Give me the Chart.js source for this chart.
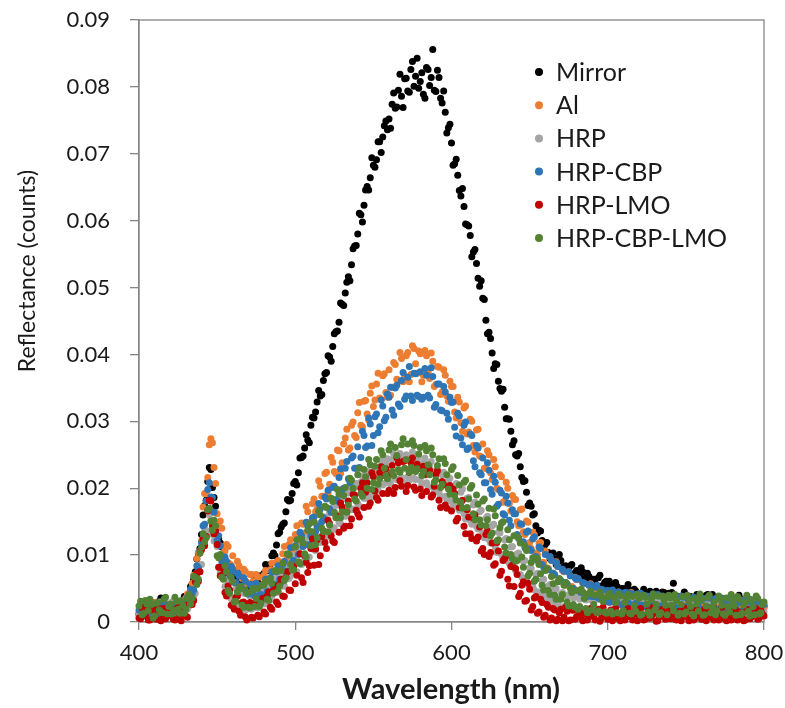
<!DOCTYPE html>
<html>
<head>
<meta charset="utf-8">
<script src="https://cdn.jsdelivr.net/npm/chart.js@4"></script>
<style>
  html, body { margin: 0; padding: 0; background: #fff; }
</style>
</head>
<body>
<canvas id="cvs_reflectancia" width="785" height="708"></canvas>
<script>
// Comprimento de onda (nm), um ponto por nm
const wavelengths = [
  400, 401, 402, 403, 404, 405, 406, 407, 408, 409, 410, 411, 412, 413, 414, 415, 416, 417, 418, 419,
  420, 421, 422, 423, 424, 425, 426, 427, 428, 429, 430, 431, 432, 433, 434, 435, 436, 437, 438, 439,
  440, 441, 442, 443, 444, 445, 446, 447, 448, 449, 450, 451, 452, 453, 454, 455, 456, 457, 458, 459,
  460, 461, 462, 463, 464, 465, 466, 467, 468, 469, 470, 471, 472, 473, 474, 475, 476, 477, 478, 479,
  480, 481, 482, 483, 484, 485, 486, 487, 488, 489, 490, 491, 492, 493, 494, 495, 496, 497, 498, 499,
  500, 501, 502, 503, 504, 505, 506, 507, 508, 509, 510, 511, 512, 513, 514, 515, 516, 517, 518, 519,
  520, 521, 522, 523, 524, 525, 526, 527, 528, 529, 530, 531, 532, 533, 534, 535, 536, 537, 538, 539,
  540, 541, 542, 543, 544, 545, 546, 547, 548, 549, 550, 551, 552, 553, 554, 555, 556, 557, 558, 559,
  560, 561, 562, 563, 564, 565, 566, 567, 568, 569, 570, 571, 572, 573, 574, 575, 576, 577, 578, 579,
  580, 581, 582, 583, 584, 585, 586, 587, 588, 589, 590, 591, 592, 593, 594, 595, 596, 597, 598, 599,
  600, 601, 602, 603, 604, 605, 606, 607, 608, 609, 610, 611, 612, 613, 614, 615, 616, 617, 618, 619,
  620, 621, 622, 623, 624, 625, 626, 627, 628, 629, 630, 631, 632, 633, 634, 635, 636, 637, 638, 639,
  640, 641, 642, 643, 644, 645, 646, 647, 648, 649, 650, 651, 652, 653, 654, 655, 656, 657, 658, 659,
  660, 661, 662, 663, 664, 665, 666, 667, 668, 669, 670, 671, 672, 673, 674, 675, 676, 677, 678, 679,
  680, 681, 682, 683, 684, 685, 686, 687, 688, 689, 690, 691, 692, 693, 694, 695, 696, 697, 698, 699,
  700, 701, 702, 703, 704, 705, 706, 707, 708, 709, 710, 711, 712, 713, 714, 715, 716, 717, 718, 719,
  720, 721, 722, 723, 724, 725, 726, 727, 728, 729, 730, 731, 732, 733, 734, 735, 736, 737, 738, 739,
  740, 741, 742, 743, 744, 745, 746, 747, 748, 749, 750, 751, 752, 753, 754, 755, 756, 757, 758, 759,
  760, 761, 762, 763, 764, 765, 766, 767, 768, 769, 770, 771, 772, 773, 774, 775, 776, 777, 778, 779,
  780, 781, 782, 783, 784, 785, 786, 787, 788, 789, 790, 791, 792, 793, 794, 795, 796, 797, 798, 799,
  800
];

const mirror = [
  0.0012, 0.0018, 0.0020, 0.0010, 0.0015, 0.0018, 0.0009, 0.0014, 0.0023, 0.0029, 0.0018, 0.0016, 0.0026, 0.0031, 0.0036, 0.0034, 0.0022, 0.0012, 0.0016, 0.0023,
  0.0024, 0.0019, 0.0019, 0.0031, 0.0028, 0.0017, 0.0021, 0.0027, 0.0030, 0.0038, 0.0034, 0.0030, 0.0042, 0.0053, 0.0056, 0.0064, 0.0075, 0.0094, 0.0102, 0.0110,
  0.0131, 0.0160, 0.0174, 0.0182, 0.0210, 0.0231, 0.0228, 0.0201, 0.0186, 0.0173, 0.0142, 0.0125, 0.0118, 0.0112, 0.0099, 0.0086, 0.0087, 0.0088, 0.0076, 0.0070,
  0.0072, 0.0063, 0.0063, 0.0074, 0.0068, 0.0059, 0.0055, 0.0064, 0.0061, 0.0049, 0.0052, 0.0057, 0.0058, 0.0070, 0.0064, 0.0056, 0.0059, 0.0068, 0.0069, 0.0068,
  0.0073, 0.0086, 0.0081, 0.0077, 0.0086, 0.0099, 0.0103, 0.0099, 0.0115, 0.0132, 0.0134, 0.0142, 0.0146, 0.0148, 0.0165, 0.0183, 0.0181, 0.0182, 0.0192, 0.0207,
  0.0210, 0.0205, 0.0223, 0.0245, 0.0246, 0.0248, 0.0260, 0.0280, 0.0272, 0.0268, 0.0294, 0.0306, 0.0305, 0.0314, 0.0329, 0.0346, 0.0338, 0.0340, 0.0361, 0.0371,
  0.0373, 0.0398, 0.0396, 0.0390, 0.0412, 0.0431, 0.0434, 0.0435, 0.0448, 0.0477, 0.0475, 0.0473, 0.0492, 0.0508, 0.0516, 0.0510, 0.0534, 0.0558, 0.0562, 0.0563,
  0.0580, 0.0611, 0.0609, 0.0598, 0.0623, 0.0646, 0.0651, 0.0646, 0.0664, 0.0694, 0.0683, 0.0680, 0.0691, 0.0718, 0.0718, 0.0702, 0.0725, 0.0742, 0.0749, 0.0736,
  0.0752, 0.0738, 0.0774, 0.0791, 0.0768, 0.0770, 0.0795, 0.0819, 0.0786, 0.0769, 0.0812, 0.0813, 0.0794, 0.0792, 0.0826, 0.0838, 0.0801, 0.0816, 0.0843, 0.0798,
  0.0808, 0.0821, 0.0789, 0.0783, 0.0829, 0.0826, 0.0802, 0.0814, 0.0856, 0.0795, 0.0793, 0.0825, 0.0814, 0.0783, 0.0776, 0.0794, 0.0762, 0.0731, 0.0739, 0.0744,
  0.0716, 0.0683, 0.0685, 0.0692, 0.0668, 0.0645, 0.0637, 0.0648, 0.0621, 0.0595, 0.0594, 0.0592, 0.0578, 0.0546, 0.0553, 0.0557, 0.0536, 0.0514, 0.0502, 0.0510,
  0.0484, 0.0482, 0.0451, 0.0431, 0.0433, 0.0424, 0.0402, 0.0379, 0.0386, 0.0385, 0.0360, 0.0349, 0.0345, 0.0348, 0.0321, 0.0304, 0.0304, 0.0303, 0.0285, 0.0265,
  0.0271, 0.0250, 0.0248, 0.0252, 0.0232, 0.0216, 0.0210, 0.0211, 0.0194, 0.0174, 0.0178, 0.0173, 0.0160, 0.0162, 0.0144, 0.0133, 0.0137, 0.0136, 0.0122, 0.0113,
  0.0116, 0.0119, 0.0104, 0.0095, 0.0101, 0.0103, 0.0094, 0.0086, 0.0089, 0.0101, 0.0092, 0.0079, 0.0083, 0.0084, 0.0076, 0.0077, 0.0084, 0.0086, 0.0072, 0.0068,
  0.0077, 0.0065, 0.0069, 0.0081, 0.0075, 0.0065, 0.0064, 0.0073, 0.0068, 0.0056, 0.0062, 0.0064, 0.0057, 0.0055, 0.0066, 0.0070, 0.0054, 0.0053, 0.0059, 0.0061,
  0.0051, 0.0061, 0.0056, 0.0046, 0.0047, 0.0059, 0.0053, 0.0041, 0.0044, 0.0050, 0.0050, 0.0042, 0.0043, 0.0056, 0.0048, 0.0037, 0.0039, 0.0049, 0.0046, 0.0040,
  0.0041, 0.0033, 0.0037, 0.0049, 0.0045, 0.0038, 0.0038, 0.0046, 0.0042, 0.0030, 0.0034, 0.0046, 0.0040, 0.0035, 0.0036, 0.0045, 0.0044, 0.0031, 0.0032, 0.0043,
  0.0039, 0.0044, 0.0058, 0.0029, 0.0035, 0.0038, 0.0031, 0.0027, 0.0037, 0.0045, 0.0033, 0.0027, 0.0028, 0.0038, 0.0036, 0.0025, 0.0030, 0.0041, 0.0034, 0.0026,
  0.0027, 0.0025, 0.0032, 0.0040, 0.0041, 0.0026, 0.0029, 0.0041, 0.0035, 0.0027, 0.0026, 0.0035, 0.0031, 0.0021, 0.0024, 0.0035, 0.0030, 0.0026, 0.0027, 0.0035,
  0.0033, 0.0035, 0.0025, 0.0023, 0.0040, 0.0034, 0.0028, 0.0033, 0.0022, 0.0019, 0.0029, 0.0032, 0.0024, 0.0020, 0.0026, 0.0033, 0.0021, 0.0020, 0.0027, 0.0028,
  0.0023
];

const al = [
  0.0014, 0.0025, 0.0026, 0.0010, 0.0009, 0.0017, 0.0021, 0.0027, 0.0017, 0.0017, 0.0029, 0.0021, 0.0012, 0.0023, 0.0022, 0.0014, 0.0015, 0.0013, 0.0027, 0.0022,
  0.0011, 0.0014, 0.0024, 0.0028, 0.0018, 0.0018, 0.0029, 0.0031, 0.0022, 0.0026, 0.0036, 0.0042, 0.0032, 0.0040, 0.0058, 0.0070, 0.0062, 0.0095, 0.0104, 0.0103,
  0.0121, 0.0172, 0.0192, 0.0192, 0.0216, 0.0265, 0.0274, 0.0268, 0.0231, 0.0207, 0.0162, 0.0143, 0.0151, 0.0140, 0.0113, 0.0106, 0.0116, 0.0113, 0.0087, 0.0085,
  0.0099, 0.0079, 0.0076, 0.0091, 0.0084, 0.0070, 0.0065, 0.0079, 0.0076, 0.0057, 0.0058, 0.0071, 0.0071, 0.0061, 0.0054, 0.0071, 0.0067, 0.0054, 0.0055, 0.0067,
  0.0070, 0.0077, 0.0059, 0.0059, 0.0078, 0.0088, 0.0066, 0.0074, 0.0089, 0.0092, 0.0076, 0.0074, 0.0102, 0.0113, 0.0088, 0.0096, 0.0116, 0.0123, 0.0103, 0.0103,
  0.0131, 0.0144, 0.0117, 0.0115, 0.0148, 0.0146, 0.0133, 0.0173, 0.0165, 0.0136, 0.0150, 0.0177, 0.0184, 0.0165, 0.0169, 0.0211, 0.0203, 0.0188, 0.0188, 0.0222,
  0.0224, 0.0193, 0.0206, 0.0246, 0.0239, 0.0225, 0.0222, 0.0257, 0.0256, 0.0222, 0.0238, 0.0266, 0.0275, 0.0288, 0.0257, 0.0260, 0.0294, 0.0299, 0.0279, 0.0276,
  0.0313, 0.0328, 0.0294, 0.0292, 0.0330, 0.0331, 0.0311, 0.0302, 0.0342, 0.0353, 0.0322, 0.0332, 0.0356, 0.0372, 0.0335, 0.0333, 0.0368, 0.0371, 0.0343, 0.0336,
  0.0377, 0.0339, 0.0351, 0.0388, 0.0385, 0.0363, 0.0360, 0.0403, 0.0394, 0.0359, 0.0368, 0.0398, 0.0403, 0.0359, 0.0370, 0.0413, 0.0409, 0.0386, 0.0372, 0.0405,
  0.0401, 0.0359, 0.0369, 0.0406, 0.0398, 0.0373, 0.0364, 0.0402, 0.0390, 0.0352, 0.0355, 0.0382, 0.0381, 0.0340, 0.0344, 0.0377, 0.0369, 0.0338, 0.0330, 0.0360,
  0.0352, 0.0352, 0.0314, 0.0305, 0.0336, 0.0329, 0.0298, 0.0285, 0.0320, 0.0323, 0.0281, 0.0284, 0.0303, 0.0300, 0.0264, 0.0254, 0.0287, 0.0288, 0.0248, 0.0247,
  0.0266, 0.0230, 0.0230, 0.0256, 0.0250, 0.0223, 0.0213, 0.0243, 0.0232, 0.0200, 0.0198, 0.0220, 0.0217, 0.0179, 0.0181, 0.0209, 0.0200, 0.0177, 0.0166, 0.0189,
  0.0184, 0.0183, 0.0150, 0.0144, 0.0168, 0.0169, 0.0135, 0.0131, 0.0151, 0.0149, 0.0119, 0.0110, 0.0134, 0.0130, 0.0103, 0.0101, 0.0118, 0.0119, 0.0089, 0.0089,
  0.0106, 0.0081, 0.0080, 0.0097, 0.0092, 0.0073, 0.0070, 0.0090, 0.0083, 0.0062, 0.0061, 0.0077, 0.0075, 0.0055, 0.0056, 0.0075, 0.0069, 0.0053, 0.0050, 0.0067,
  0.0063, 0.0064, 0.0046, 0.0042, 0.0058, 0.0057, 0.0042, 0.0041, 0.0055, 0.0057, 0.0039, 0.0039, 0.0050, 0.0052, 0.0037, 0.0034, 0.0048, 0.0047, 0.0034, 0.0033,
  0.0045, 0.0029, 0.0031, 0.0046, 0.0044, 0.0031, 0.0030, 0.0045, 0.0041, 0.0025, 0.0028, 0.0041, 0.0040, 0.0030, 0.0029, 0.0044, 0.0038, 0.0024, 0.0026, 0.0038,
  0.0037, 0.0039, 0.0025, 0.0022, 0.0036, 0.0036, 0.0024, 0.0022, 0.0034, 0.0040, 0.0026, 0.0022, 0.0033, 0.0035, 0.0022, 0.0023, 0.0035, 0.0037, 0.0021, 0.0018,
  0.0031, 0.0019, 0.0023, 0.0036, 0.0032, 0.0019, 0.0019, 0.0035, 0.0030, 0.0019, 0.0020, 0.0033, 0.0029, 0.0015, 0.0018, 0.0032, 0.0031, 0.0019, 0.0017, 0.0032,
  0.0028, 0.0033, 0.0019, 0.0015, 0.0027, 0.0029, 0.0016, 0.0014, 0.0029, 0.0030, 0.0018, 0.0015, 0.0026, 0.0031, 0.0015, 0.0014, 0.0025, 0.0029, 0.0017, 0.0013,
  0.0027, 0.0014, 0.0014, 0.0028, 0.0024, 0.0014, 0.0016, 0.0028, 0.0023, 0.0011, 0.0015, 0.0028, 0.0026, 0.0011, 0.0013, 0.0026, 0.0022, 0.0014, 0.0016, 0.0025,
  0.0021
];

const hrp = [
  0.0010, 0.0010, 0.0027, 0.0027, 0.0014, 0.0014, 0.0030, 0.0029, 0.0008, 0.0018, 0.0023, 0.0011, 0.0016, 0.0030, 0.0029, 0.0012, 0.0007, 0.0025, 0.0025, 0.0011,
  0.0013, 0.0030, 0.0031, 0.0011, 0.0009, 0.0026, 0.0022, 0.0013, 0.0015, 0.0030, 0.0030, 0.0019, 0.0024, 0.0046, 0.0049, 0.0039, 0.0043, 0.0073, 0.0082, 0.0075,
  0.0086, 0.0125, 0.0139, 0.0128, 0.0136, 0.0160, 0.0166, 0.0131, 0.0121, 0.0128, 0.0113, 0.0082, 0.0074, 0.0085, 0.0080, 0.0053, 0.0046, 0.0062, 0.0060, 0.0035,
  0.0032, 0.0031, 0.0050, 0.0047, 0.0022, 0.0024, 0.0044, 0.0043, 0.0018, 0.0019, 0.0041, 0.0039, 0.0019, 0.0021, 0.0042, 0.0042, 0.0021, 0.0022, 0.0046, 0.0045,
  0.0027, 0.0028, 0.0053, 0.0056, 0.0033, 0.0038, 0.0062, 0.0068, 0.0044, 0.0045, 0.0073, 0.0075, 0.0054, 0.0054, 0.0084, 0.0087, 0.0065, 0.0069, 0.0095, 0.0099,
  0.0075, 0.0075, 0.0107, 0.0112, 0.0086, 0.0090, 0.0119, 0.0126, 0.0096, 0.0097, 0.0131, 0.0132, 0.0108, 0.0107, 0.0142, 0.0147, 0.0119, 0.0122, 0.0152, 0.0157,
  0.0128, 0.0128, 0.0163, 0.0170, 0.0138, 0.0141, 0.0174, 0.0179, 0.0149, 0.0147, 0.0184, 0.0185, 0.0158, 0.0159, 0.0193, 0.0201, 0.0168, 0.0169, 0.0201, 0.0207,
  0.0177, 0.0173, 0.0209, 0.0218, 0.0185, 0.0185, 0.0217, 0.0225, 0.0192, 0.0187, 0.0225, 0.0229, 0.0199, 0.0197, 0.0232, 0.0241, 0.0205, 0.0207, 0.0238, 0.0244,
  0.0210, 0.0206, 0.0243, 0.0251, 0.0214, 0.0213, 0.0246, 0.0252, 0.0216, 0.0209, 0.0247, 0.0250, 0.0217, 0.0212, 0.0246, 0.0254, 0.0215, 0.0213, 0.0243, 0.0248,
  0.0212, 0.0206, 0.0239, 0.0245, 0.0208, 0.0203, 0.0234, 0.0240, 0.0202, 0.0194, 0.0227, 0.0227, 0.0195, 0.0188, 0.0220, 0.0224, 0.0188, 0.0183, 0.0212, 0.0215,
  0.0180, 0.0173, 0.0203, 0.0207, 0.0171, 0.0167, 0.0194, 0.0199, 0.0162, 0.0154, 0.0185, 0.0186, 0.0152, 0.0146, 0.0175, 0.0179, 0.0143, 0.0139, 0.0165, 0.0167,
  0.0133, 0.0126, 0.0155, 0.0158, 0.0123, 0.0118, 0.0144, 0.0146, 0.0112, 0.0104, 0.0134, 0.0133, 0.0101, 0.0095, 0.0123, 0.0125, 0.0091, 0.0088, 0.0112, 0.0113,
  0.0081, 0.0077, 0.0102, 0.0103, 0.0071, 0.0067, 0.0091, 0.0092, 0.0062, 0.0056, 0.0081, 0.0080, 0.0053, 0.0048, 0.0071, 0.0073, 0.0045, 0.0042, 0.0062, 0.0064,
  0.0038, 0.0033, 0.0054, 0.0056, 0.0032, 0.0029, 0.0048, 0.0050, 0.0027, 0.0023, 0.0042, 0.0044, 0.0023, 0.0021, 0.0038, 0.0041, 0.0020, 0.0018, 0.0036, 0.0038,
  0.0017, 0.0016, 0.0034, 0.0036, 0.0015, 0.0015, 0.0033, 0.0034, 0.0014, 0.0012, 0.0032, 0.0032, 0.0013, 0.0014, 0.0034, 0.0034, 0.0012, 0.0013, 0.0031, 0.0033,
  0.0015, 0.0035, 0.0035, 0.0013, 0.0011, 0.0032, 0.0030, 0.0013, 0.0014, 0.0035, 0.0036, 0.0012, 0.0010, 0.0033, 0.0032, 0.0014, 0.0016, 0.0032, 0.0029, 0.0013,
  0.0012, 0.0014, 0.0034, 0.0032, 0.0009, 0.0010, 0.0031, 0.0034, 0.0015, 0.0013, 0.0028, 0.0032, 0.0011, 0.0013, 0.0035, 0.0033, 0.0013, 0.0009, 0.0027, 0.0029,
  0.0010, 0.0032, 0.0033, 0.0014, 0.0016, 0.0032, 0.0029, 0.0011, 0.0012, 0.0035, 0.0036, 0.0013, 0.0009, 0.0032, 0.0030, 0.0013, 0.0014, 0.0031, 0.0028, 0.0010,
  0.0011, 0.0033, 0.0034, 0.0014, 0.0015, 0.0031, 0.0026, 0.0009, 0.0010, 0.0032, 0.0032, 0.0013, 0.0013, 0.0031, 0.0029, 0.0010, 0.0008, 0.0033, 0.0035, 0.0013,
  0.0012, 0.0030, 0.0027, 0.0012, 0.0016, 0.0033, 0.0031, 0.0009, 0.0009, 0.0031, 0.0028, 0.0011, 0.0014, 0.0033, 0.0033, 0.0011, 0.0010, 0.0028, 0.0026, 0.0012,
  0.0015
];

const hrpCbp = [
  0.0018, 0.0020, 0.0008, 0.0012, 0.0023, 0.0010, 0.0013, 0.0026, 0.0020, 0.0018, 0.0009, 0.0010, 0.0025, 0.0027, 0.0016, 0.0010, 0.0022, 0.0026, 0.0010, 0.0013,
  0.0026, 0.0014, 0.0014, 0.0026, 0.0021, 0.0014, 0.0012, 0.0029, 0.0028, 0.0019, 0.0023, 0.0037, 0.0039, 0.0049, 0.0042, 0.0048, 0.0066, 0.0084, 0.0081, 0.0107,
  0.0118, 0.0144, 0.0146, 0.0181, 0.0198, 0.0208, 0.0187, 0.0186, 0.0164, 0.0135, 0.0122, 0.0129, 0.0114, 0.0091, 0.0086, 0.0097, 0.0091, 0.0074, 0.0070, 0.0083,
  0.0078, 0.0059, 0.0059, 0.0073, 0.0069, 0.0054, 0.0050, 0.0066, 0.0061, 0.0043, 0.0042, 0.0056, 0.0056, 0.0043, 0.0039, 0.0058, 0.0054, 0.0040, 0.0041, 0.0055,
  0.0057, 0.0064, 0.0046, 0.0043, 0.0066, 0.0075, 0.0053, 0.0056, 0.0075, 0.0084, 0.0064, 0.0060, 0.0086, 0.0091, 0.0076, 0.0076, 0.0100, 0.0111, 0.0089, 0.0092,
  0.0114, 0.0089, 0.0101, 0.0134, 0.0129, 0.0113, 0.0115, 0.0149, 0.0144, 0.0116, 0.0129, 0.0156, 0.0157, 0.0135, 0.0143, 0.0177, 0.0169, 0.0150, 0.0156, 0.0187,
  0.0184, 0.0197, 0.0169, 0.0164, 0.0201, 0.0203, 0.0183, 0.0181, 0.0216, 0.0229, 0.0198, 0.0200, 0.0230, 0.0240, 0.0214, 0.0208, 0.0245, 0.0248, 0.0230, 0.0230,
  0.0262, 0.0231, 0.0246, 0.0285, 0.0279, 0.0261, 0.0263, 0.0305, 0.0296, 0.0264, 0.0279, 0.0307, 0.0311, 0.0283, 0.0292, 0.0332, 0.0323, 0.0301, 0.0306, 0.0341,
  0.0336, 0.0351, 0.0317, 0.0309, 0.0350, 0.0354, 0.0326, 0.0322, 0.0361, 0.0373, 0.0333, 0.0338, 0.0366, 0.0382, 0.0338, 0.0331, 0.0372, 0.0371, 0.0339, 0.0337,
  0.0374, 0.0333, 0.0336, 0.0379, 0.0369, 0.0339, 0.0335, 0.0380, 0.0367, 0.0321, 0.0325, 0.0356, 0.0356, 0.0317, 0.0316, 0.0352, 0.0344, 0.0312, 0.0303, 0.0336,
  0.0328, 0.0329, 0.0291, 0.0278, 0.0312, 0.0308, 0.0275, 0.0265, 0.0294, 0.0299, 0.0258, 0.0260, 0.0281, 0.0279, 0.0241, 0.0232, 0.0264, 0.0260, 0.0223, 0.0220,
  0.0245, 0.0208, 0.0208, 0.0238, 0.0227, 0.0198, 0.0191, 0.0218, 0.0209, 0.0173, 0.0176, 0.0197, 0.0193, 0.0162, 0.0160, 0.0188, 0.0178, 0.0152, 0.0144, 0.0168,
  0.0162, 0.0162, 0.0131, 0.0125, 0.0147, 0.0146, 0.0120, 0.0111, 0.0134, 0.0136, 0.0109, 0.0107, 0.0124, 0.0127, 0.0098, 0.0092, 0.0112, 0.0110, 0.0086, 0.0082,
  0.0101, 0.0078, 0.0078, 0.0098, 0.0092, 0.0073, 0.0071, 0.0089, 0.0083, 0.0062, 0.0062, 0.0079, 0.0076, 0.0059, 0.0057, 0.0075, 0.0069, 0.0050, 0.0050, 0.0066,
  0.0064, 0.0065, 0.0046, 0.0044, 0.0059, 0.0058, 0.0041, 0.0038, 0.0055, 0.0056, 0.0038, 0.0038, 0.0052, 0.0055, 0.0036, 0.0035, 0.0049, 0.0048, 0.0033, 0.0031,
  0.0047, 0.0030, 0.0030, 0.0048, 0.0045, 0.0030, 0.0029, 0.0045, 0.0043, 0.0025, 0.0027, 0.0044, 0.0044, 0.0029, 0.0026, 0.0043, 0.0040, 0.0026, 0.0028, 0.0042,
  0.0042, 0.0043, 0.0025, 0.0023, 0.0039, 0.0039, 0.0023, 0.0024, 0.0038, 0.0042, 0.0026, 0.0026, 0.0041, 0.0039, 0.0024, 0.0021, 0.0036, 0.0037, 0.0022, 0.0024,
  0.0039, 0.0024, 0.0025, 0.0039, 0.0034, 0.0021, 0.0021, 0.0039, 0.0037, 0.0022, 0.0023, 0.0035, 0.0033, 0.0018, 0.0020, 0.0037, 0.0035, 0.0024, 0.0024, 0.0036,
  0.0032, 0.0035, 0.0019, 0.0020, 0.0036, 0.0036, 0.0022, 0.0018, 0.0031, 0.0035, 0.0018, 0.0019, 0.0034, 0.0036, 0.0021, 0.0017, 0.0030, 0.0032, 0.0017, 0.0018,
  0.0033, 0.0019, 0.0020, 0.0034, 0.0029, 0.0016, 0.0016, 0.0032, 0.0032, 0.0017, 0.0019, 0.0034, 0.0028, 0.0016, 0.0015, 0.0032, 0.0030, 0.0016, 0.0018, 0.0029,
  0.0026
];

const hrpLmo = [
  0.0006, 0.0005, 0.0021, 0.0024, 0.0010, 0.0016, 0.0003, 0.0003, 0.0018, 0.0022, 0.0007, 0.0004, 0.0015, 0.0020, 0.0002, 0.0005, 0.0020, 0.0005, 0.0009, 0.0020,
  0.0013, 0.0019, 0.0004, 0.0003, 0.0019, 0.0022, 0.0008, 0.0002, 0.0016, 0.0024, 0.0009, 0.0007, 0.0028, 0.0037, 0.0026, 0.0032, 0.0060, 0.0073, 0.0061, 0.0075,
  0.0108, 0.0124, 0.0114, 0.0128, 0.0166, 0.0182, 0.0181, 0.0144, 0.0132, 0.0136, 0.0116, 0.0082, 0.0069, 0.0081, 0.0072, 0.0044, 0.0039, 0.0054, 0.0048, 0.0025,
  0.0024, 0.0019, 0.0037, 0.0039, 0.0016, 0.0010, 0.0029, 0.0030, 0.0008, 0.0003, 0.0025, 0.0029, 0.0007, 0.0006, 0.0028, 0.0031, 0.0010, 0.0008, 0.0031, 0.0035,
  0.0015, 0.0012, 0.0039, 0.0045, 0.0022, 0.0019, 0.0047, 0.0054, 0.0030, 0.0026, 0.0056, 0.0064, 0.0039, 0.0038, 0.0067, 0.0075, 0.0048, 0.0047, 0.0078, 0.0083,
  0.0057, 0.0070, 0.0089, 0.0102, 0.0066, 0.0059, 0.0099, 0.0089, 0.0074, 0.0084, 0.0110, 0.0124, 0.0085, 0.0109, 0.0123, 0.0086, 0.0099, 0.0128, 0.0136, 0.0119,
  0.0110, 0.0152, 0.0147, 0.0129, 0.0121, 0.0119, 0.0160, 0.0157, 0.0134, 0.0178, 0.0172, 0.0140, 0.0143, 0.0165, 0.0181, 0.0144, 0.0154, 0.0191, 0.0190, 0.0167,
  0.0162, 0.0157, 0.0200, 0.0208, 0.0171, 0.0194, 0.0208, 0.0173, 0.0178, 0.0223, 0.0217, 0.0196, 0.0186, 0.0182, 0.0223, 0.0232, 0.0192, 0.0219, 0.0229, 0.0192,
  0.0197, 0.0221, 0.0234, 0.0192, 0.0201, 0.0246, 0.0238, 0.0211, 0.0203, 0.0240, 0.0241, 0.0195, 0.0204, 0.0224, 0.0239, 0.0245, 0.0202, 0.0197, 0.0236, 0.0229,
  0.0199, 0.0189, 0.0233, 0.0220, 0.0195, 0.0234, 0.0227, 0.0187, 0.0190, 0.0203, 0.0221, 0.0226, 0.0182, 0.0171, 0.0210, 0.0205, 0.0175, 0.0170, 0.0201, 0.0204,
  0.0166, 0.0199, 0.0192, 0.0151, 0.0155, 0.0171, 0.0179, 0.0182, 0.0143, 0.0132, 0.0168, 0.0157, 0.0132, 0.0125, 0.0155, 0.0160, 0.0121, 0.0127, 0.0142, 0.0106,
  0.0110, 0.0101, 0.0131, 0.0136, 0.0098, 0.0104, 0.0118, 0.0085, 0.0087, 0.0119, 0.0106, 0.0070, 0.0076, 0.0092, 0.0095, 0.0099, 0.0064, 0.0054, 0.0083, 0.0085,
  0.0053, 0.0080, 0.0071, 0.0038, 0.0043, 0.0055, 0.0060, 0.0031, 0.0032, 0.0058, 0.0049, 0.0018, 0.0023, 0.0036, 0.0038, 0.0013, 0.0015, 0.0034, 0.0029, 0.0007,
  0.0010, 0.0026, 0.0022, 0.0003, 0.0006, 0.0020, 0.0018, 0.0002, 0.0004, 0.0014, 0.0019, 0.0002, 0.0007, 0.0022, 0.0016, 0.0002, 0.0003, 0.0018, 0.0018, 0.0004,
  0.0008, 0.0021, 0.0015, 0.0006, 0.0002, 0.0012, 0.0017, 0.0003, 0.0009, 0.0020, 0.0014, 0.0008, 0.0003, 0.0015, 0.0019, 0.0001, 0.0006, 0.0022, 0.0013, 0.0009,
  0.0004, 0.0013, 0.0018, 0.0002, 0.0007, 0.0021, 0.0012, 0.0005, 0.0002, 0.0010, 0.0016, 0.0003, 0.0008, 0.0020, 0.0014, 0.0007, 0.0003, 0.0012, 0.0019, 0.0002,
  0.0006, 0.0020, 0.0011, 0.0003, 0.0004, 0.0011, 0.0017, 0.0006, 0.0009, 0.0022, 0.0013, 0.0001, 0.0002, 0.0009, 0.0015, 0.0019, 0.0007, 0.0004, 0.0018, 0.0012,
  0.0005, 0.0019, 0.0012, 0.0004, 0.0003, 0.0013, 0.0016, 0.0002, 0.0008, 0.0021, 0.0014, 0.0007, 0.0002, 0.0010, 0.0017, 0.0003, 0.0006, 0.0018, 0.0011, 0.0008,
  0.0004, 0.0011, 0.0019, 0.0002, 0.0007, 0.0020, 0.0013, 0.0006, 0.0003, 0.0013, 0.0016, 0.0003, 0.0009, 0.0022, 0.0012, 0.0005, 0.0002, 0.0010, 0.0015, 0.0003,
  0.0006, 0.0021, 0.0018, 0.0003, 0.0005, 0.0014, 0.0011, 0.0002, 0.0003, 0.0019, 0.0016, 0.0005, 0.0008, 0.0011, 0.0013, 0.0020, 0.0004, 0.0006, 0.0017, 0.0012,
  0.0009
];

const hrpCbpLmo = [
  0.0024, 0.0031, 0.0011, 0.0013, 0.0032, 0.0027, 0.0017, 0.0034, 0.0026, 0.0006, 0.0009, 0.0028, 0.0029, 0.0018, 0.0015, 0.0014, 0.0034, 0.0037, 0.0012, 0.0023,
  0.0027, 0.0012, 0.0018, 0.0037, 0.0031, 0.0019, 0.0013, 0.0032, 0.0025, 0.0013, 0.0019, 0.0035, 0.0041, 0.0027, 0.0036, 0.0068, 0.0067, 0.0056, 0.0064, 0.0103,
  0.0112, 0.0132, 0.0120, 0.0126, 0.0168, 0.0170, 0.0151, 0.0137, 0.0152, 0.0144, 0.0099, 0.0096, 0.0101, 0.0067, 0.0064, 0.0084, 0.0075, 0.0047, 0.0043, 0.0067,
  0.0060, 0.0030, 0.0031, 0.0045, 0.0052, 0.0053, 0.0025, 0.0022, 0.0048, 0.0043, 0.0022, 0.0021, 0.0046, 0.0050, 0.0023, 0.0035, 0.0050, 0.0023, 0.0028, 0.0055,
  0.0056, 0.0061, 0.0034, 0.0032, 0.0065, 0.0058, 0.0043, 0.0077, 0.0076, 0.0046, 0.0054, 0.0077, 0.0088, 0.0062, 0.0066, 0.0102, 0.0100, 0.0086, 0.0078, 0.0078,
  0.0112, 0.0123, 0.0090, 0.0087, 0.0124, 0.0118, 0.0102, 0.0097, 0.0137, 0.0147, 0.0114, 0.0135, 0.0149, 0.0116, 0.0126, 0.0166, 0.0160, 0.0140, 0.0135, 0.0173,
  0.0171, 0.0135, 0.0145, 0.0185, 0.0180, 0.0164, 0.0156, 0.0198, 0.0191, 0.0156, 0.0165, 0.0189, 0.0201, 0.0164, 0.0175, 0.0215, 0.0212, 0.0200, 0.0184, 0.0181,
  0.0220, 0.0230, 0.0192, 0.0188, 0.0228, 0.0217, 0.0200, 0.0243, 0.0235, 0.0198, 0.0208, 0.0233, 0.0243, 0.0206, 0.0214, 0.0256, 0.0250, 0.0230, 0.0219, 0.0214,
  0.0257, 0.0266, 0.0225, 0.0219, 0.0261, 0.0249, 0.0228, 0.0224, 0.0265, 0.0274, 0.0230, 0.0243, 0.0266, 0.0224, 0.0231, 0.0271, 0.0264, 0.0225, 0.0229, 0.0251,
  0.0261, 0.0219, 0.0225, 0.0264, 0.0256, 0.0235, 0.0220, 0.0260, 0.0250, 0.0209, 0.0213, 0.0234, 0.0244, 0.0201, 0.0206, 0.0244, 0.0237, 0.0220, 0.0199, 0.0191,
  0.0228, 0.0232, 0.0189, 0.0182, 0.0219, 0.0205, 0.0179, 0.0170, 0.0209, 0.0212, 0.0171, 0.0184, 0.0200, 0.0204, 0.0162, 0.0153, 0.0190, 0.0176, 0.0153, 0.0145,
  0.0181, 0.0184, 0.0144, 0.0153, 0.0170, 0.0129, 0.0133, 0.0169, 0.0159, 0.0121, 0.0123, 0.0141, 0.0148, 0.0150, 0.0112, 0.0103, 0.0138, 0.0123, 0.0101, 0.0095,
  0.0129, 0.0091, 0.0092, 0.0126, 0.0118, 0.0097, 0.0082, 0.0114, 0.0107, 0.0069, 0.0073, 0.0089, 0.0096, 0.0061, 0.0064, 0.0095, 0.0086, 0.0072, 0.0055, 0.0048,
  0.0077, 0.0080, 0.0047, 0.0041, 0.0068, 0.0057, 0.0040, 0.0034, 0.0060, 0.0065, 0.0034, 0.0041, 0.0055, 0.0059, 0.0030, 0.0024, 0.0051, 0.0044, 0.0026, 0.0022,
  0.0047, 0.0019, 0.0023, 0.0049, 0.0045, 0.0035, 0.0020, 0.0014, 0.0042, 0.0046, 0.0018, 0.0026, 0.0040, 0.0014, 0.0017, 0.0045, 0.0039, 0.0031, 0.0015, 0.0013,
  0.0038, 0.0043, 0.0016, 0.0012, 0.0037, 0.0029, 0.0014, 0.0042, 0.0039, 0.0012, 0.0017, 0.0029, 0.0036, 0.0041, 0.0013, 0.0012, 0.0038, 0.0025, 0.0016, 0.0041,
  0.0035, 0.0010, 0.0012, 0.0040, 0.0037, 0.0027, 0.0015, 0.0010, 0.0034, 0.0042, 0.0018, 0.0026, 0.0039, 0.0011, 0.0014, 0.0039, 0.0033, 0.0025, 0.0011, 0.0040,
  0.0036, 0.0025, 0.0017, 0.0041, 0.0032, 0.0010, 0.0013, 0.0026, 0.0038, 0.0012, 0.0015, 0.0040, 0.0031, 0.0023, 0.0012, 0.0009, 0.0035, 0.0027, 0.0016, 0.0042,
  0.0033, 0.0010, 0.0011, 0.0024, 0.0037, 0.0040, 0.0014, 0.0022, 0.0030, 0.0011, 0.0017, 0.0039, 0.0034, 0.0025, 0.0012, 0.0010, 0.0036, 0.0023, 0.0015, 0.0041,
  0.0031, 0.0024, 0.0010, 0.0038, 0.0034, 0.0011, 0.0013, 0.0025, 0.0029, 0.0040, 0.0016, 0.0009, 0.0033, 0.0023, 0.0011, 0.0039, 0.0035, 0.0012, 0.0014, 0.0026,
  0.0030
];

// Séries na ordem da legenda
const nomes = ["Mirror", "Al", "HRP", "HRP-CBP", "HRP-LMO", "HRP-CBP-LMO"];
const valores = [mirror, al, hrp, hrpCbp, hrpLmo, hrpCbpLmo];
const cores = ["#000000", "#ED7D31", "#A5A5A5", "#2E75B6", "#C00000", "#548235"];

const yTicks = [0, 0.01, 0.02, 0.03, 0.04, 0.05, 0.06, 0.07, 0.08, 0.09];

const corEixo = "#868686";
const corTexto = "#1a1a1a";
const fonte = "Lato, 'Open Sans', sans-serif";

// Zera o espaço extra que o Chart.js reserva para os rótulos das pontas
function semPaddingExtra(s) {
    s.paddingTop = 0;
    s.paddingBottom = 0;
    s.paddingLeft = 0;
    s.paddingRight = 0;
}

// Moldura em volta da área do gráfico (topo e direita também)
const molduraPlugin = {
    id: "moldura",
    beforeDatasetsDraw(chart) {
        const { ctx, chartArea: a } = chart;
        ctx.save();
        ctx.strokeStyle = corEixo;
        ctx.lineWidth = 1.3;
        ctx.strokeRect(a.left, a.top, a.right - a.left, a.bottom - a.top);
        ctx.restore();
    }
};

// Títulos dos eixos e legenda dentro da área
const textosPlugin = {
    id: "textos",
    afterDraw(chart) {
        const ctx = chart.ctx;
        ctx.save();
        ctx.fillStyle = corTexto;
        ctx.textAlign = "center";
        ctx.textBaseline = "middle";

        ctx.font = `bold 29px ${fonte}`;
        ctx.fillText("Wavelength (nm)", 451, 690);

        ctx.save();
        ctx.translate(28, 271);
        ctx.rotate(-Math.PI / 2);
        ctx.font = `23px ${fonte}`;
        ctx.fillText("Reflectance (counts)", 0, 0);
        ctx.restore();

        ctx.textAlign = "left";
        ctx.font = `25px ${fonte}`;
        for (let i = 0; i < nomes.length; i++) {
            const y = 72 + i * 33.2;
            ctx.beginPath();
            ctx.fillStyle = cores[i];
            ctx.arc(539, y, 4, 0, Math.PI * 2);
            ctx.fill();
            ctx.fillStyle = corTexto;
            ctx.fillText(nomes[i], 556, y + 1);
        }
        ctx.restore();
    }
};

const datasets = nomes.map((nome, i) => ({
    label: nome,
    data: wavelengths.map((w, k) => ({ x: w, y: valores[i][k] })),
    backgroundColor: cores[i],
    borderWidth: 0,
    pointRadius: 3.5,
    pointHoverRadius: 3.5,
    order: nomes.length - i,   // última série desenhada por cima
    clip: false
}));

new Chart(document.getElementById("cvs_reflectancia"), {
    type: "scatter",
    data: { datasets: datasets },
    options: {
        responsive: false,
        animation: false,
        layout: { padding: { left: 0, right: 21, top: 20, bottom: 0 } },
        plugins: {
            legend: { display: false },
            tooltip: { enabled: false }
        },
        scales: {
            x: {
                type: "linear",
                min: 400,
                max: 800,
                afterFit(s) { s.height = 86; semPaddingExtra(s); },
                ticks: {
                    stepSize: 100,
                    color: corTexto,
                    font: { family: fonte, size: 22 },
                    padding: 10
                },
                grid: { drawOnChartArea: false, drawTicks: true, tickLength: 8, color: corEixo, lineWidth: 1.3 },
                border: { color: corEixo, width: 1.3 }
            },
            y: {
                min: 0,
                max: 0.09,
                afterFit(s) { s.width = 139; semPaddingExtra(s); },
                afterBuildTicks(s) { s.ticks = yTicks.map(v => ({ value: v })); },
                ticks: {
                    color: corTexto,
                    font: { family: fonte, size: 22 },
                    padding: 20,
                    callback: v => (v === 0 ? "0" : v.toFixed(2))
                },
                grid: { drawOnChartArea: false, drawTicks: true, tickLength: 9, color: corEixo, lineWidth: 1.3 },
                border: { color: corEixo, width: 1.3 }
            }
        }
    },
    plugins: [molduraPlugin, textosPlugin]
});
</script>
</body>
</html>
